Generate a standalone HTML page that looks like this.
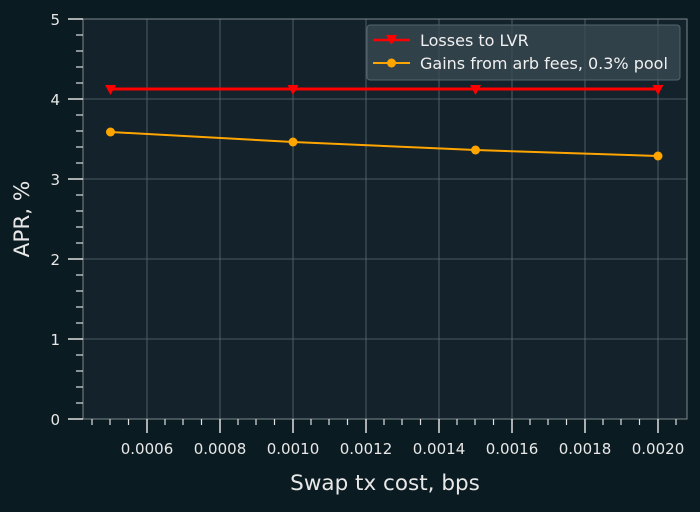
<!DOCTYPE html>
<html><head><style>body{margin:0;background:#0b1b22}</style></head><body>
<svg width="700" height="507" xmlns="http://www.w3.org/2000/svg" font-family="DejaVu Sans, Liberation Sans, sans-serif">
<rect width="700" height="507" fill="#0b1b22"/>
<rect x="83" y="19" width="604" height="400" fill="#13222b"/>
<g stroke="#5f6d73" stroke-width="0.8">
<line x1="147" y1="19" x2="147" y2="419"/><line x1="220" y1="19" x2="220" y2="419"/><line x1="293" y1="19" x2="293" y2="419"/><line x1="366" y1="19" x2="366" y2="419"/><line x1="439" y1="19" x2="439" y2="419"/><line x1="512" y1="19" x2="512" y2="419"/><line x1="585" y1="19" x2="585" y2="419"/><line x1="658" y1="19" x2="658" y2="419"/>
<line x1="83" y1="99" x2="687" y2="99"/><line x1="83" y1="179" x2="687" y2="179"/><line x1="83" y1="259" x2="687" y2="259"/><line x1="83" y1="339" x2="687" y2="339"/>
</g>
<rect x="83" y="19" width="604" height="400" fill="none" stroke="#7d898e" stroke-width="1"/>
<g stroke="#e0e0e0" stroke-width="1.5">
<line x1="68" y1="19" x2="83" y2="19"/><line x1="68" y1="99" x2="83" y2="99"/><line x1="68" y1="179" x2="83" y2="179"/><line x1="68" y1="259" x2="83" y2="259"/><line x1="68" y1="339" x2="83" y2="339"/><line x1="68" y1="419" x2="83" y2="419"/>
<line x1="147" y1="419" x2="147" y2="433"/><line x1="220" y1="419" x2="220" y2="433"/><line x1="293" y1="419" x2="293" y2="433"/><line x1="366" y1="419" x2="366" y2="433"/><line x1="439" y1="419" x2="439" y2="433"/><line x1="512" y1="419" x2="512" y2="433"/><line x1="585" y1="419" x2="585" y2="433"/><line x1="658" y1="419" x2="658" y2="433"/>
</g>
<g stroke="#e0e0e0" stroke-width="1.2">
<line x1="76" y1="403" x2="83" y2="403"/><line x1="76" y1="387" x2="83" y2="387"/><line x1="76" y1="371" x2="83" y2="371"/><line x1="76" y1="355" x2="83" y2="355"/>
<line x1="76" y1="323" x2="83" y2="323"/><line x1="76" y1="307" x2="83" y2="307"/><line x1="76" y1="291" x2="83" y2="291"/><line x1="76" y1="275" x2="83" y2="275"/>
<line x1="76" y1="243" x2="83" y2="243"/><line x1="76" y1="227" x2="83" y2="227"/><line x1="76" y1="211" x2="83" y2="211"/><line x1="76" y1="195" x2="83" y2="195"/>
<line x1="76" y1="163" x2="83" y2="163"/><line x1="76" y1="147" x2="83" y2="147"/><line x1="76" y1="131" x2="83" y2="131"/><line x1="76" y1="115" x2="83" y2="115"/>
<line x1="76" y1="83" x2="83" y2="83"/><line x1="76" y1="67" x2="83" y2="67"/><line x1="76" y1="51" x2="83" y2="51"/><line x1="76" y1="35" x2="83" y2="35"/>
<line x1="92" y1="419" x2="92" y2="425"/><line x1="110" y1="419" x2="110" y2="425"/><line x1="128.5" y1="419" x2="128.5" y2="425"/>
<line x1="165" y1="419" x2="165" y2="425"/><line x1="183" y1="419" x2="183" y2="425"/><line x1="201.5" y1="419" x2="201.5" y2="425"/>
<line x1="238" y1="419" x2="238" y2="425"/><line x1="256" y1="419" x2="256" y2="425"/><line x1="274.5" y1="419" x2="274.5" y2="425"/>
<line x1="311" y1="419" x2="311" y2="425"/><line x1="329" y1="419" x2="329" y2="425"/><line x1="347.5" y1="419" x2="347.5" y2="425"/>
<line x1="384" y1="419" x2="384" y2="425"/><line x1="402" y1="419" x2="402" y2="425"/><line x1="420.5" y1="419" x2="420.5" y2="425"/>
<line x1="457" y1="419" x2="457" y2="425"/><line x1="475" y1="419" x2="475" y2="425"/><line x1="493.5" y1="419" x2="493.5" y2="425"/>
<line x1="530" y1="419" x2="530" y2="425"/><line x1="548" y1="419" x2="548" y2="425"/><line x1="566.5" y1="419" x2="566.5" y2="425"/>
<line x1="603" y1="419" x2="603" y2="425"/><line x1="621" y1="419" x2="621" y2="425"/><line x1="639.5" y1="419" x2="639.5" y2="425"/>
<line x1="676" y1="419" x2="676" y2="425"/>
</g>
<g fill="#e8e8e8" font-size="15" text-anchor="end">
<text x="60" y="25">5</text><text x="60" y="105">4</text><text x="60" y="185">3</text><text x="60" y="265">2</text><text x="60" y="345">1</text><text x="60" y="425">0</text>
</g>
<g fill="#e8e8e8" font-size="15" text-anchor="middle">
<text x="147" y="454">0.0006</text><text x="220" y="454">0.0008</text><text x="293" y="454">0.0010</text><text x="366" y="454">0.0012</text><text x="439" y="454">0.0014</text><text x="512" y="454">0.0016</text><text x="585" y="454">0.0018</text><text x="658" y="454">0.0020</text>
</g>
<text x="385" y="490" fill="#e8e8e8" font-size="21.5" text-anchor="middle">Swap tx cost, bps</text>
<text x="29" y="219" fill="#e8e8e8" font-size="21.5" text-anchor="middle" transform="rotate(-90 29 219)">APR, %</text>
<polyline points="110.5,132 293,142 475.5,150 658,156" fill="none" stroke="#ffa500" stroke-width="2"/>
<g fill="#ffa500"><circle cx="110.5" cy="132" r="4.5"/><circle cx="293" cy="142" r="4.5"/><circle cx="475.5" cy="150" r="4.5"/><circle cx="658" cy="156" r="4.5"/></g>
<line x1="110.5" y1="89" x2="658" y2="89" stroke="#ff0000" stroke-width="3"/>
<g fill="#ff0000">
<polygon points="105,85 116,85 110.5,95"/><polygon points="287.5,85 298.5,85 293,95"/><polygon points="470,85 481,85 475.5,95"/><polygon points="652.5,85 663.5,85 658,95"/>
</g>
<rect x="367" y="25" width="313" height="55" rx="3" fill="#3a4a52" fill-opacity="0.8" stroke="#55656c"/>
<line x1="373" y1="40" x2="410" y2="40" stroke="#ff0000" stroke-width="2.5"/><polygon points="386,35 397,35 391.5,45" fill="#ff0000"/>
<line x1="373" y1="63" x2="410" y2="63" stroke="#ffa500" stroke-width="2"/><circle cx="391.5" cy="63" r="4.5" fill="#ffa500"/>
<text x="420" y="46" fill="#f0f0f0" font-size="16">Losses to LVR</text>
<text x="420" y="69" fill="#f0f0f0" font-size="16">Gains from arb fees, 0.3% pool</text>
</svg>
</body></html>
